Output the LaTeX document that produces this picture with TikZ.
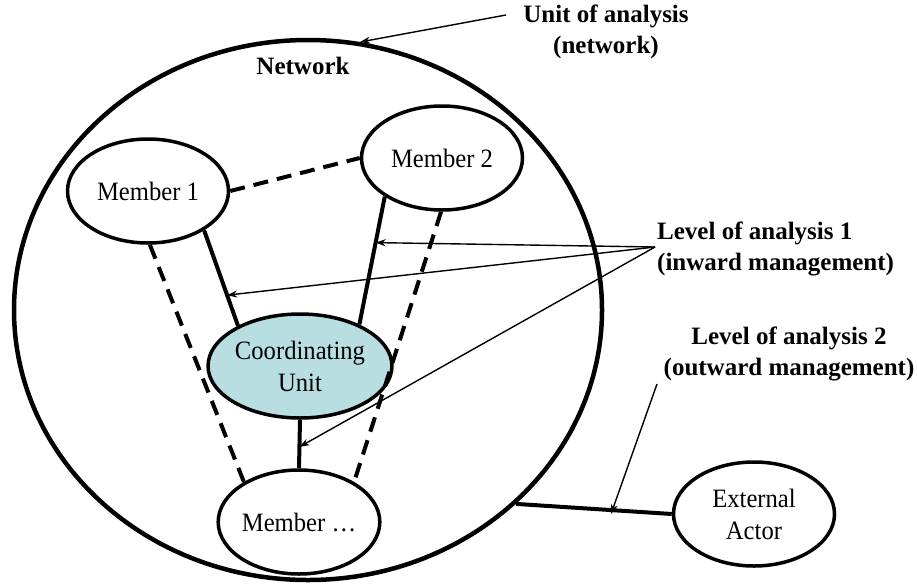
\documentclass[tikz,border=0pt]{standalone}
\usepackage{fontspec}
\setmainfont{Liberation Serif}
\newfontfamily\nodefont{Liberation Serif}[FakeStretch=0.93]
\usetikzlibrary{shapes.geometric,arrows.meta}
\definecolor{unitfill}{RGB}{184,222,226}
\begin{document}
\begin{tikzpicture}[x=1pt,y=-1pt,
  memberbox/.style={ellipse,draw,line width=3.5pt,inner sep=0pt,
    minimum width=161pt,minimum height=104pt,align=center,
    font=\nodefont\fontsize{26.5}{32}\selectfont},
  netbox/.style={ellipse,draw,line width=4.5pt,inner sep=0pt,
    minimum width=588pt,minimum height=540pt},
  tie/.style={line width=4pt},
  loosetie/.style={line width=4pt,dash pattern=on 15pt off 9pt},
  pointer/.style={line width=1.4pt,-{Stealth[length=10pt,width=7pt]}},
  caption/.style={font=\fontsize{25}{31}\selectfont\bfseries,inner sep=0pt}]
\useasboundingbox (0,0) rectangle (917,584);

% the network as a whole
\node[netbox] (net) at (308,310) {};
\node[caption] (netlabel) at (303,66) {Network};

% members and the coordinating unit
\node[memberbox] (m1) at (148,191) {Member 1};
\node[memberbox] (m2) at (442,158) {Member 2};
\node[memberbox,fill=unitfill] (cu) at (300,366) {Coordinating\\Unit};
\node[memberbox] (mx) at (299,522) {Member \dots};
\node[memberbox] (ext) at (754,514) {External\\Actor};

% ties inside the network
\draw[loosetie] (m1.east) -- (m2.west);
\draw[tie] (m1.-35) -- coordinate[pos=0.68] (t1) (cu.147);
\draw[tie] (m2.214) -- coordinate[pos=0.36] (t2) (cu.35);
\draw[loosetie] (m1.-88) -- (mx.144);
\draw[loosetie] (m2.-91) -- (mx.36);
\draw[tie] (cu.south) -- coordinate[pos=0.56] (t3) (mx.north);

% tie to the outside
\draw[tie] (net.-43) -- coordinate[pos=0.61] (t4) (ext.west);

% explanatory labels
\node[caption,align=center] (unitlabel) at (606,32) {Unit of analysis\\(network)};
\node[caption,align=left,anchor=west] (lvl1) at (657,249) {Level of analysis 1\\(inward management)};
\node[caption,align=center] (lvl2) at (789,354) {Level of analysis 2\\(outward management)};

\coordinate (u0) at (506,15);
\coordinate (a1) at (655,247);
\coordinate (a2) at (657,384);

\draw[pointer] (u0) -- (net.79);
\draw[pointer] (a1) -- (t2);
\draw[pointer] (a1) -- (t1);
\draw[pointer] (a1) -- (t3);
\draw[pointer] (a2) -- ([yshift=-4pt]t4);
\end{tikzpicture}
\end{document}
